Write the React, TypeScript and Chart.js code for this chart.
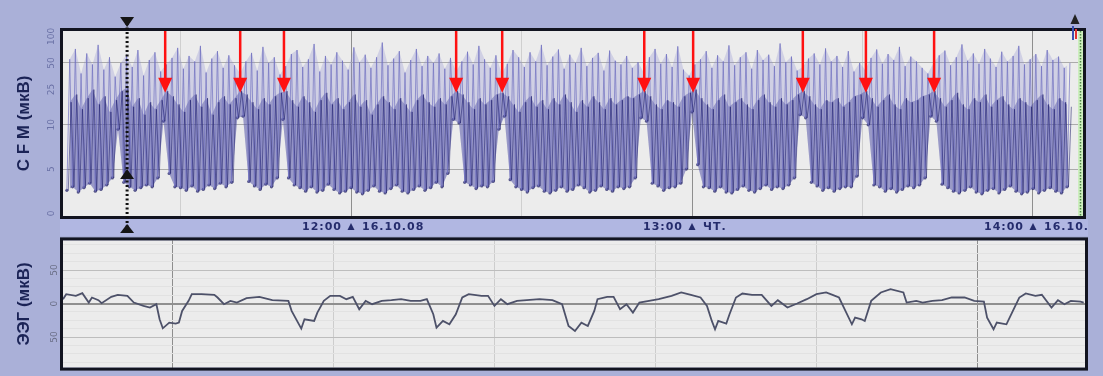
import React, { useEffect, useRef } from "react";
import { Chart, registerables } from "chart.js";

Chart.register(...registerables);

// ---------- Top panel: CFM (µV), one column per minute, minutes counted from 11:00 ----------
const CFM_FIRST_MINUTE = 10;
const cfmLow = [
  2.6, 3.0, 2.4, 2.9, 3.4, 2.5, 2.7, 3.2, 4.0, 9.5,
  3.5, 3.0, 2.6, 2.9, 3.2, 3.0, 4.0, 11.0, 4.5, 3.0,
  2.9, 2.6, 3.1, 2.5, 2.7, 3.2, 2.8, 3.4, 3.0, 3.5,
  12.0, 12.5, 3.6, 3.1, 2.7, 3.3, 3.0, 4.0, 11.5, 4.0,
  3.2, 2.9, 2.5, 3.0, 2.4, 2.6, 3.3, 2.7, 2.3, 2.5,
  2.9, 2.4, 2.2, 2.6, 3.1, 2.5, 2.3, 2.8, 3.2, 2.5,
  2.3, 2.7, 3.1, 2.6, 2.9, 3.5, 3.0, 4.5, 11.5, 10.5,
  3.5, 3.2, 2.8, 3.1, 3.0, 3.6, 9.5, 12.5, 3.8, 3.0,
  2.7, 2.4, 2.9, 3.1, 2.5, 2.3, 2.6, 3.0, 2.5, 2.7,
  3.2, 2.9, 2.4, 2.6, 3.1, 2.7, 2.5, 3.0, 2.8, 3.0,
  4.0, 12.0, 11.0, 3.4, 3.1, 2.6, 2.9, 3.0, 3.4, 5.0,
  14.0, 5.5, 3.0, 2.9, 2.5, 3.0, 2.4, 2.3, 2.7, 3.1,
  2.6, 2.4, 2.8, 3.2, 2.7, 3.0, 2.8, 3.2, 4.0, 13.0,
  12.0, 3.5, 3.1, 2.6, 2.9, 2.5, 2.8, 3.0, 3.0, 4.2,
  12.0, 10.0, 3.2, 3.0, 2.5, 2.8, 2.4, 2.7, 3.1, 2.9,
  3.2, 4.0, 12.5, 11.0, 3.3, 2.9, 2.5, 2.3, 2.6, 3.0,
  2.4, 2.2, 2.6, 2.8, 2.3, 2.7, 3.1, 2.5, 2.2, 2.4,
  2.8, 2.3, 2.6, 2.9, 2.5, 2.3, 3.0,
];
const cfmMid = [
  18, 22, 15, 20, 25, 17, 21, 14, 19, 24,
  26, 16, 20, 13, 18, 15, 19, 24, 21, 17,
  14, 19, 22, 16, 20, 13, 18, 21, 17, 20,
  24, 22, 18, 15, 20, 17, 21, 23, 24, 19,
  16, 21, 18, 14, 19, 23, 17, 20, 15, 18,
  22, 16, 19, 13, 17, 21, 18, 15, 20, 17,
  14, 19, 22, 18, 16, 20, 17, 21, 24, 22,
  18, 15, 20, 17, 19, 22, 23, 21, 17, 14,
  18, 21, 16, 19, 15, 20, 17, 22, 18, 14,
  19, 16, 21, 18, 15, 20, 17, 19, 21, 20,
  22, 24, 21, 17, 15, 19, 18, 16, 21, 23,
  25, 20, 17, 15, 19, 22, 16, 18, 20, 17,
  15, 19, 22, 18, 16, 20, 17, 19, 22, 24,
  21, 17, 15, 19, 18, 20, 16, 18, 21, 22,
  24, 20, 16, 19, 22, 17, 15, 20, 18, 19,
  21, 22, 24, 20, 16, 19, 23, 17, 15, 20,
  18, 22, 16, 19, 21, 17, 15, 20, 18, 16,
  19, 22, 17, 15, 20, 18, 16,
];
const cfmHigh = [
  55, 72, 38, 64, 48, 80, 42, 58, 35, 50,
  62, 45, 70, 36, 54, 66, 40, 48, 57, 74,
  43, 60, 52, 78, 39, 56, 68, 44, 61, 47,
  38, 52, 65, 41, 76, 50, 58, 37, 46, 63,
  70, 45, 55, 82, 40, 60, 48, 66, 53, 42,
  75, 51, 62, 44, 58, 85, 47, 56, 68, 39,
  54, 72, 46, 60, 50, 64, 43, 57, 40, 52,
  67, 48, 78, 55, 44, 61, 38, 49, 70, 58,
  45, 66, 52, 80, 47, 59, 71, 43, 62, 50,
  74, 46, 57, 65, 41, 69, 53, 48, 60, 44,
  51, 39, 58, 72, 49, 63, 45, 77, 42, 36,
  48, 55, 68, 44, 61, 52, 79, 47, 58, 66,
  43, 70, 54, 62, 46, 83, 51, 59, 41, 45,
  56, 64, 48, 73, 52, 60, 45, 68, 40, 50,
  42, 57, 71, 49, 63, 54, 76, 46, 59, 52,
  44, 38, 50, 61, 69, 47, 58, 81, 53, 64,
  49, 72, 56, 45, 67, 52, 60, 78, 48, 55,
  63, 46, 70, 54, 59, 44, 50,
];

const cfmTickValues = [0, 5, 10, 25, 50, 100];
const cfmGridValues = [5, 10, 50];
const timeGridMinutes = [30, 60, 90, 120, 150, 180];
const hourMinutes = [60, 120, 180];
const hourLabels = ["12:00", "13:00", "14:00"];
const hourSubLabels = ["16.10.08", "ЧТ.", "16.10."];
const arrowMinutes = [27.3, 40.5, 48.2, 78.5, 86.6, 111.6, 120.2, 139.5, 150.6, 162.6];
const ARROW_TIP_VALUE = 23;
const CURSOR_MINUTE = 20.6;
const CURSOR_MARK_VALUE = 5;
const TOP_X_MIN = 9.32;
const TOP_X_MAX = 188.8;

// ---------- Bottom panel: ЭЭГ (µV) against seconds ----------
const eegTime = [
  0.0, 0.1, 0.4, 0.6, 0.8, 0.9, 1.1, 1.2, 1.5, 1.7,
  2.0, 2.2, 2.5, 2.7, 2.9, 3.0, 3.1, 3.3, 3.5, 3.6,
  3.7, 3.9, 4.0, 4.3, 4.7, 4.8, 5.0, 5.2, 5.4, 5.7,
  6.1, 6.5, 7.0, 7.1, 7.4, 7.5, 7.8, 7.9, 8.1, 8.3,
  8.6, 8.8, 9.0, 9.2, 9.4, 9.6, 9.9, 10.2, 10.5, 10.8,
  11.1, 11.3, 11.5, 11.6, 11.8, 12.0, 12.2, 12.4, 12.6, 13.0,
  13.2, 13.4, 13.6, 13.8, 14.1, 14.4, 14.8, 15.2, 15.5, 15.7,
  15.9, 16.1, 16.3, 16.5, 16.6, 16.9, 17.1, 17.3, 17.5, 17.7,
  17.9, 18.2, 18.5, 18.9, 19.2, 19.5, 19.8, 20.0, 20.15, 20.25,
  20.35, 20.6, 20.7, 20.9, 21.1, 21.4, 21.7, 22.0, 22.2, 22.5,
  22.8, 23.1, 23.4, 23.7, 23.9, 24.1, 24.3, 24.5, 24.6, 24.8,
  24.9, 25.1, 25.4, 25.7, 26.1, 26.2, 26.5, 26.7, 27.0, 27.3,
  27.6, 28.0, 28.3, 28.6, 28.7, 28.9, 29.0, 29.3, 29.5, 29.7,
  29.9, 30.2, 30.4, 30.7, 30.9, 31.1, 31.3, 31.6, 31.7,
];
const eegValue = [
  6.5, 14, 11.5, 15.5, 1.5, 9, 5, 0.5, 10, 13,
  11.5, 1.5, -3.5, -6, -1, -23.5, -37, -28.5, -30, -28.5,
  -11, 4, 14, 14, 13, 9, -1, 4, 1.5, 8,
  10, 5, 4, -11, -37.5, -23.5, -26, -13.5, 4, 11.5,
  11.5, 6.5, 10, -8.5, 4, -1, 4, 5, 6.5, 4,
  4, 6.5, -16, -36, -26, -31, -16, 9, 14, 11.5,
  11.5, -3.5, 6.5, -1, 4, 5, 6.5, 5, -1, -33.5,
  -41, -28.5, -33.5, -11, 6.5, 10, 10, -8.5, -1, -13.5,
  1.5, 4, 6.5, 11.5, 16.5, 13, 9, -3.5, -26, -38.5,
  -26, -30, -16, 9, 15, 13, 13, -3.5, 5, -6,
  0, 6.5, 14, 16.5, 13, 9, -11, -31, -21, -23.5,
  -26, 4, 16.5, 21.5, 16.5, 1.5, 4, 1.5, 4, 5,
  9, 9, 4, 3, -21, -38.5, -28.5, -31, -11, 9,
  15, 11.5, 13, -6, 5, -1, 4, 3, 1.5,
];
const eegGridSeconds = [3.39, 8.39, 13.39, 18.39, 23.39, 28.39];
const eegMajorGridSeconds = [3.39, 28.39];
const eegTickValues = [-50, 0, 50];
const eegStripeValues = [-87.5, -75, -62.5, -37.5, -25, -12.5, 12.5, 25, 37.5, 62.5, 75, 87.5];
const EEG_X_MIN = 0;
const EEG_X_MAX = 31.74;
const EEG_Y_MIN = -95.7;
const EEG_Y_MAX = 94.3;

// semi-logarithmic aEEG scale: linear 0..10 µV, logarithmic 10..100 µV
const semiLog = (v: number) => (v <= 10 ? v / 10 : 1 + Math.log10(v / 10));

const TITLE_FONT = { family: "'Liberation Sans', Arial, sans-serif", size: 17, weight: "bold" as const };
const TICK_FONT = { family: "'DejaVu Sans', sans-serif", size: 9 };

function frame(ctx: CanvasRenderingContext2D, a: any) {
  ctx.save();
  ctx.strokeStyle = "#121420";
  ctx.lineWidth = 3;
  ctx.strokeRect(a.left - 1.5, a.top - 1.5, a.right - a.left + 3, a.bottom - a.top + 3);
  ctx.restore();
}

function triangle(ctx: CanvasRenderingContext2D, x: number, tipY: number, w: number, h: number, up: boolean) {
  ctx.beginPath();
  ctx.moveTo(x, tipY);
  ctx.lineTo(x - w / 2, up ? tipY + h : tipY - h);
  ctx.lineTo(x + w / 2, up ? tipY + h : tipY - h);
  ctx.closePath();
  ctx.fill();
}

const topDecor = {
  id: "topDecor",
  beforeDraw(chart: any) {
    const { ctx, chartArea: a } = chart;
    ctx.save();
    ctx.fillStyle = "#ececec";
    ctx.fillRect(a.left, a.top, a.right - a.left, a.bottom - a.top);
    ctx.restore();
  },
  afterDatasetsDraw(chart: any) {
    const { ctx, chartArea: a, scales } = chart;
    const xs = scales.x;
    const ys = scales.y;
    ctx.save();
    // green dotted strip on the right edge
    ctx.fillStyle = "#cdeebf";
    ctx.fillRect(a.right - 5, a.top, 5, a.bottom - a.top);
    ctx.strokeStyle = "#4f8a45";
    ctx.lineWidth = 1.5;
    ctx.setLineDash([1.5, 1.5]);
    ctx.beginPath();
    ctx.moveTo(a.right - 2.5, a.top);
    ctx.lineTo(a.right - 2.5, a.bottom);
    ctx.stroke();
    ctx.setLineDash([]);
    // red arrows
    const tipY = ys.getPixelForValue(semiLog(ARROW_TIP_VALUE));
    ctx.strokeStyle = "#ff1111";
    ctx.fillStyle = "#ff1111";
    ctx.lineWidth = 2.5;
    arrowMinutes.forEach((m) => {
      const x = xs.getPixelForValue(m);
      ctx.beginPath();
      ctx.moveTo(x, a.top - 2);
      ctx.lineTo(x, tipY - 12);
      ctx.stroke();
      triangle(ctx, x, tipY, 14, 15, false);
    });
    ctx.restore();
  },
  afterDraw(chart: any) {
    const { ctx, chartArea: a, scales } = chart;
    const xs = scales.x;
    const ys = scales.y;
    frame(ctx, a);
    ctx.save();
    // time band
    ctx.fillStyle = "#b1b7e2";
    ctx.fillRect(a.left - 3, a.bottom + 3, a.right - a.left + 8, 20);
    ctx.fillStyle = "#252c6c";
    ctx.font = "bold 11px 'DejaVu Sans', sans-serif";
    (ctx as any).letterSpacing = "1px";
    ctx.textBaseline = "middle";
    const ty = a.bottom + 11;
    hourMinutes.forEach((m, i) => {
      const x = xs.getPixelForValue(m);
      ctx.textAlign = "right";
      ctx.fillText(hourLabels[i], x - 9, ty);
      ctx.textAlign = "left";
      ctx.fillText(hourSubLabels[i], x + 11, ty);
      triangle(ctx, x, ty - 4, 7, 7, true);
    });
    (ctx as any).letterSpacing = "0px";
    // cursor
    const cx = xs.getPixelForValue(CURSOR_MINUTE);
    ctx.strokeStyle = "#101010";
    ctx.lineWidth = 3;
    ctx.setLineDash([2, 2.5]);
    ctx.beginPath();
    ctx.moveTo(cx, a.top - 8);
    ctx.lineTo(cx, a.bottom + 12);
    ctx.stroke();
    ctx.setLineDash([]);
    ctx.fillStyle = "#151515";
    triangle(ctx, cx, a.top - 4, 14, 10, false);
    triangle(ctx, cx, ys.getPixelForValue(semiLog(CURSOR_MARK_VALUE)), 14, 10, true);
    triangle(ctx, cx, a.bottom + 8, 14, 9, true);
    // small marker top-right
    ctx.fillStyle = "#222";
    triangle(ctx, a.right - 8, a.top - 17, 9, 10, true);
    ctx.fillStyle = "#3b4fb0";
    ctx.fillRect(a.right - 11, a.top - 5, 2, 14);
    ctx.fillStyle = "#e03030";
    ctx.fillRect(a.right - 8, a.top - 2, 2, 10);
    ctx.restore();
  },
};

const bottomDecor = {
  id: "bottomDecor",
  beforeDraw(chart: any) {
    const { ctx, chartArea: a } = chart;
    ctx.save();
    ctx.fillStyle = "#ececec";
    ctx.fillRect(a.left, a.top, a.right - a.left, a.bottom - a.top);
    ctx.restore();
  },
  afterDraw(chart: any) {
    frame(chart.ctx, chart.chartArea);
  },
};

function topConfig(): any {
  const outerPts: { x: number; y: number }[] = [];
  const corePts: { x: number; y: number }[] = [];
  const lowPts: { x: number; y: number }[] = [];
  const midPts: { x: number; y: number }[] = [];
  const highPts: { x: number; y: number }[] = [];
  cfmLow.forEach((lo, i) => {
    const m = CFM_FIRST_MINUTE + i;
    outerPts.push({ x: m, y: semiLog(lo) }, { x: m + 0.5, y: semiLog(cfmHigh[i]) });
    corePts.push({ x: m + 0.25, y: semiLog(lo) }, { x: m + 0.75, y: semiLog(cfmMid[i]) });
    lowPts.push({ x: m, y: semiLog(lo) });
    midPts.push({ x: m + 0.5, y: semiLog(cfmMid[i]) });
    highPts.push({ x: m + 0.5, y: semiLog(cfmHigh[i]) });
  });
  const base = { pointRadius: 0, tension: 0 };
  return {
    type: "line",
    data: {
      datasets: [
        { ...base, label: "core", data: corePts, borderColor: "rgba(30,30,108,0.55)", borderWidth: 1 },
        { ...base, label: "range", data: outerPts, borderColor: "rgba(112,112,192,0.7)", borderWidth: 1 },
        {
          ...base,
          label: "mid fill",
          data: midPts,
          borderWidth: 0,
          borderColor: "rgba(0,0,0,0)",
          fill: 4,
          backgroundColor: "rgba(62,62,152,0.38)",
        },
        {
          ...base,
          label: "high fill",
          data: highPts,
          borderWidth: 0,
          borderColor: "rgba(0,0,0,0)",
          fill: 4,
          backgroundColor: "rgba(138,138,208,0.28)",
        },
        {
          label: "low",
          data: lowPts,
          tension: 0,
          borderWidth: 0,
          borderColor: "rgba(0,0,0,0)",
          fill: false,
          pointRadius: 1.6,
          pointBorderWidth: 0,
          pointBackgroundColor: "rgba(24,24,96,0.7)",
        },
      ],
    },
    options: {
      responsive: false,
      animation: false,
      devicePixelRatio: 1,
      events: [],
      layout: { padding: { left: 0, right: 20, top: 31, bottom: 20 } },
      plugins: { legend: { display: false }, tooltip: { enabled: false } },
      scales: {
        x: {
          type: "linear",
          min: TOP_X_MIN,
          max: TOP_X_MAX,
          afterBuildTicks: (s: any) => {
            s.ticks = timeGridMinutes.map((v) => ({ value: v }));
          },
          afterFit: (s: any) => {
            s.height = 0;
          },
          ticks: { display: false },
          border: { display: false },
          grid: {
            drawTicks: false,
            color: (c: any) => (hourMinutes.includes(c.tick?.value) ? "#8e8e8e" : "#cfcfcf"),
            lineWidth: 1,
          },
        },
        y: {
          type: "linear",
          min: -0.03,
          max: 2.06,
          afterBuildTicks: (s: any) => {
            s.ticks = cfmTickValues.map((v) => ({ value: semiLog(v) }));
          },
          afterFit: (s: any) => {
            s.width = 63;
          },
          border: { display: false },
          grid: {
            drawTicks: false,
            color: (c: any) => (cfmGridValues.includes(cfmTickValues[c.index]) ? "#ababab" : "rgba(0,0,0,0)"),
          },
          ticks: {
            autoSkip: false,
            callback: (_v: any, i: number) => String(cfmTickValues[i]),
            minRotation: 90,
            maxRotation: 90,
            crossAlign: "center",
            padding: 3,
            color: "#6a71a6",
            font: TICK_FONT,
          },
          title: {
            display: true,
            text: "C F M (мкВ)",
            color: "#1b2356",
            font: TITLE_FONT,
            padding: { top: 14, bottom: 0 },
          },
        },
      },
    },
    plugins: [topDecor],
  };
}

function bottomConfig(): any {
  const pts = eegTime.map((t, i) => ({ x: t, y: eegValue[i] }));
  const allY = [...eegTickValues, ...eegStripeValues].sort((p, q) => p - q);
  return {
    type: "line",
    data: {
      datasets: [
        { label: "ЭЭГ", data: pts, borderColor: "#4d5169", borderWidth: 1.8, pointRadius: 0, tension: 0 },
      ],
    },
    options: {
      responsive: false,
      animation: false,
      devicePixelRatio: 1,
      events: [],
      layout: { padding: { left: 0, right: 18, top: 5, bottom: 6 } },
      plugins: { legend: { display: false }, tooltip: { enabled: false } },
      scales: {
        x: {
          type: "linear",
          min: EEG_X_MIN,
          max: EEG_X_MAX,
          afterBuildTicks: (s: any) => {
            s.ticks = eegGridSeconds.map((v) => ({ value: v }));
          },
          afterFit: (s: any) => {
            s.height = 0;
          },
          ticks: { display: false },
          border: { display: false },
          grid: {
            drawTicks: false,
            color: (c: any) => (eegMajorGridSeconds.includes(c.tick?.value) ? "#8e8e8e" : "#cdcdcd"),
          },
        },
        y: {
          type: "linear",
          min: EEG_Y_MIN,
          max: EEG_Y_MAX,
          afterBuildTicks: (s: any) => {
            s.ticks = allY.map((v) => ({ value: v }));
          },
          afterFit: (s: any) => {
            s.width = 63;
          },
          border: { display: false },
          grid: {
            drawTicks: false,
            color: (c: any) => {
              const v = c.tick?.value;
              if (v === 0) return "#8f8f8f";
              if (eegTickValues.includes(v)) return "#bdbdbd";
              return "#e2e2e2";
            },
            lineWidth: (c: any) => (c.tick?.value === 0 ? 2 : 1),
          },
          ticks: {
            autoSkip: false,
            callback: (_v: any, i: number) => {
              const v = allY[i];
              return eegTickValues.includes(v) ? String(Math.abs(v)) : "";
            },
            minRotation: 90,
            maxRotation: 90,
            crossAlign: "center",
            padding: 3,
            color: "#6a6e86",
            font: TICK_FONT,
          },
          title: {
            display: true,
            text: "ЭЭГ (мкВ)",
            color: "#1b2356",
            font: TITLE_FONT,
            padding: { top: 14, bottom: 0 },
          },
        },
      },
    },
    plugins: [bottomDecor],
  };
}

export default function App() {
  const topRef = useRef<HTMLCanvasElement>(null);
  const botRef = useRef<HTMLCanvasElement>(null);
  useEffect(() => {
    const top = new Chart(topRef.current as HTMLCanvasElement, topConfig());
    const bot = new Chart(botRef.current as HTMLCanvasElement, bottomConfig());
    return () => {
      top.destroy();
      bot.destroy();
    };
  }, []);
  return (
    <div
      style={{
        position: "fixed",
        left: 0,
        top: 0,
        width: 1103,
        height: 376,
        background: "#aab0d8",
        overflow: "hidden",
      }}
    >
      <canvas
        ref={topRef}
        width={1103}
        height={236}
        style={{ position: "absolute", left: 0, top: 0, width: 1103, height: 236 }}
      />
      <canvas
        ref={botRef}
        width={1103}
        height={144}
        style={{ position: "absolute", left: 0, top: 232, width: 1103, height: 144 }}
      />
    </div>
  );
}
